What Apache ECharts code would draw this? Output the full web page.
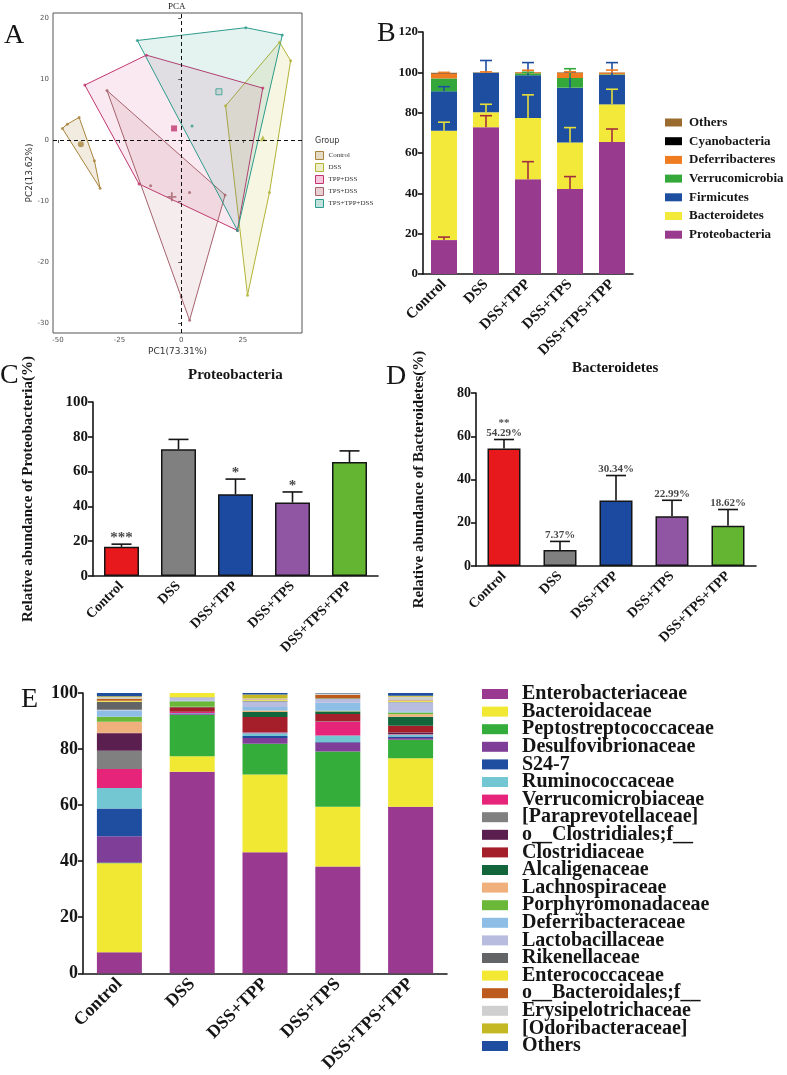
<!DOCTYPE html>
<html>
<head>
<meta charset="utf-8">
<script src="https://cdn.jsdelivr.net/npm/echarts@6/dist/echarts.min.js"></script>
<style>
  html, body { margin: 0; background: #fff; }
  #main { width: 787px; height: 1075px; }
</style>
</head>
<body>
<div id="main"></div>
<script>
// ---------- data ----------
const groups = ['Control', 'DSS', 'DSS+TPP', 'DSS+TPS', 'DSS+TPS+TPP'];

// A: PCA (hull vertices, inner samples, group centroids)
const pcaGroups = ['Control', 'DSS', 'TPP+DSS', 'TPS+DSS', 'TPS+TPP+DSS'];
const controlHull = [[-48.2, 1.9], [-46.2, 2.6], [-41.4, 3.7], [-35.2, -3.4], [-32.9, -7.9]];
const dssHull = [[18.0, 5.6], [39.9, 16.0], [44.4, 13.0], [35.8, -8.6], [26.9, -25.4]];
const tppHull = [[-39.1, 9.0], [-14.1, 13.9], [33.1, 8.5], [22.8, -14.8], [-17.1, -7.2]];
const tpsHull = [[-30.1, 8.1], [17.8, -9.0], [3.4, -29.5], [0.0, -25.7]];
const tpstppHull = [[-17.8, 16.3], [26.2, 18.4], [41.0, 17.2], [22.8, -14.8]];
const tpsInner = [[-12.4, -7.5], [3.4, -8.6]];
const tpstppInner = [[4.4, 2.3]];
const centroids = [[-40.7, -0.7], [33.1, 0.3], [-2.9, 1.9], [-3.8, -9.3], [15.3, 7.9]];

// B/C/D: phylum level (%)
const proteobacteria = [16.8, 72.8, 47.0, 42.2, 65.5];
const bacteroidetes = [54.29, 7.37, 30.34, 22.99, 18.62];
const firmicutes = [19.5, 19.6, 21.2, 27.2, 14.6];
const verrucomicrobia = [6.4, 0.05, 1.0, 4.8, 0.3];
const deferribacteres = [2.5, 0.1, 0.5, 2.6, 0.8];
const cyanobacteria = [0.2, 0.02, 0.02, 0.1, 0.05];
const othersPhylum = [0.1, 0.1, 0.1, 0.1, 0.1];
const proteoErr = [1.5, 5.7, 8.7, 6.1, 6.4];
const bacteroErr = [4.2, 4.0, 11.5, 7.4, 7.5];
const firmiErr = [2.3, 6.1, 6.3, 7.8, 6.1];
const verrucoErr = [0, 0, 0.5, 4.6, 0];
const deferriErr = [0.5, 0.3, 1.0, 0.5, 1.3];
const starsC = ['***', '', '*', '*', ''];
const starsD = ['**', '', '', '', ''];

// E: family level (%)
const familyNames = ['Enterobacteriaceae', 'Bacteroidaceae', 'Peptostreptococcaceae', 'Desulfovibrionaceae', 'S24-7',
  'Ruminococcaceae', 'Verrucomicrobiaceae', '[Paraprevotellaceae]', 'o__Clostridiales;f__', 'Clostridiaceae',
  'Alcaligenaceae', 'Lachnospiraceae', 'Porphyromonadaceae', 'Deferribacteraceae', 'Lactobacillaceae',
  'Rikenellaceae', 'Enterococcaceae', 'o__Bacteroidales;f__', 'Erysipelotrichaceae', '[Odoribacteraceae]', 'Others'];
const enterobacteriaceae = [7.5, 71.9, 43.2, 38.1, 59.4];
const bacteroidaceae = [31.8, 5.5, 27.7, 21.3, 17.3];
const peptostreptococcaceae = [0.1, 14.8, 11.0, 19.7, 6.6];
const desulfovibrionaceae = [9.5, 0.5, 2.0, 3.2, 0.6];
const s247 = [9.9, 0.1, 0.8, 0.2, 0.6];
const ruminococcaceae = [7.3, 0.1, 0.9, 2.3, 0.6];
const verrucomicrobiaceae = [6.8, 0.3, 0.3, 4.9, 0.2];
const paraprevotellaceae = [6.5, 0.0, 0.1, 0.1, 0.1];
const oClostridiales = [6.2, 0.1, 0.1, 0.1, 0.5];
const clostridiaceae = [0.1, 1.6, 5.3, 2.6, 2.4];
const alcaligenaceae = [0.1, 0.1, 1.8, 0.9, 3.2];
const lachnospiraceae = [3.9, 0.1, 0.5, 0.1, 0.9];
const porphyromonadaceae = [1.8, 2.0, 0.1, 0.2, 0.6];
const deferribacteraceae = [2.3, 0.1, 1.2, 2.8, 0.5];
const lactobacillaceae = [0.2, 1.2, 2.0, 1.4, 3.2];
const rikenellaceae = [2.9, 0.1, 0.2, 0.2, 0.2];
const enterococcaceae = [0.3, 1.8, 0.3, 0.1, 0.3];
const oBacteroidales = [0.7, 0.3, 0.2, 1.2, 0.2];
const erysipelotrichaceae = [0.6, 0.1, 0.3, 0.3, 1.3];
const odoribacteraceae = [0.3, 0.1, 1.5, 0.1, 0.3];
const othersFamily = [1.2, 0.1, 0.6, 0.5, 1.3];

// ---------- helpers ----------
const serif = '"Liberation Serif","Times New Roman",serif';
const ink = '#151515';

function catAxis(gridIndex, fontSize) {
  return {
    type: 'category', gridIndex: gridIndex, data: groups,
    axisLine: { lineStyle: { color: ink, width: 1.6 } },
    axisTick: { alignWithLabel: true, length: 6, lineStyle: { color: ink, width: 1.6 } },
    axisLabel: { rotate: 45, interval: 0, margin: 8, fontFamily: serif, fontWeight: 'bold', fontSize: fontSize, color: ink }
  };
}
function valAxis(gridIndex, max, fontSize, name, gap) {
  return {
    type: 'value', gridIndex: gridIndex, min: 0, max: max, interval: 20,
    splitLine: { show: false },
    axisLine: { show: true, lineStyle: { color: ink, width: 1.6 } },
    axisTick: { show: true, length: 5, lineStyle: { color: ink, width: 1.6 } },
    axisLabel: { fontFamily: serif, fontWeight: 'bold', fontSize: fontSize, color: ink, margin: 5 },
    name: name || '', nameLocation: 'middle', nameGap: gap || 0,
    nameTextStyle: { fontFamily: serif, fontWeight: 'bold', fontSize: 15, color: ink }
  };
}
function errorRender(half, color, width) {
  return function (params, api) {
    const e = api.value(2);
    if (!e) return null;
    const base = api.coord([api.value(0), api.value(1)]);
    const top = api.coord([api.value(0), api.value(1) + e]);
    const st = { stroke: color, lineWidth: width };
    return {
      type: 'group', children: [
        { type: 'line', shape: { x1: base[0], y1: base[1], x2: top[0], y2: top[1] }, style: st },
        { type: 'line', shape: { x1: top[0] - half, y1: top[1], x2: top[0] + half, y2: top[1] }, style: st }
      ]
    };
  };
}

const series = [];

// ---------- A: PCA ----------
const hulls = [controlHull, dssHull, tppHull, tpsHull, tpstppHull];
const inners = [[], [], [], tpsInner, tpstppInner];
const pcaColors = ['#a8843c', '#b3b336', '#c2356f', '#a5626c', '#2e9c8c'];
const pcaFills = ['rgba(168,132,60,0.16)', 'rgba(195,195,70,0.15)', 'rgba(225,70,140,0.12)',
  'rgba(175,95,105,0.12)', 'rgba(46,156,140,0.13)'];
const pcaSymbols = ['circle', 'triangle', 'rect',
  'path://M4,0h2v4h4v2h-4v4h-2v-4h-4v-2h4z', 'rect'];

hulls.forEach(function (hull, g) {
  series.push({
    type: 'custom', name: pcaGroups[g], xAxisIndex: 0, yAxisIndex: 0, z: 1,
    data: hull, encode: { x: 0, y: 1 },
    renderItem: function (params, api) {
      if (params.dataIndex !== 0) return null;
      const pts = hull.map(function (p) { return api.coord(p); });
      return { type: 'polygon', shape: { points: pts },
        style: { fill: pcaFills[g], stroke: pcaColors[g], lineWidth: 1 } };
    }
  });
  series.push({
    type: 'scatter', name: pcaGroups[g], xAxisIndex: 0, yAxisIndex: 0, z: 3,
    data: hull.concat(inners[g]), symbolSize: 3, itemStyle: { color: pcaColors[g] }
  });
  series.push({
    type: 'scatter', name: pcaGroups[g], xAxisIndex: 0, yAxisIndex: 0, z: 4,
    data: [centroids[g]], symbol: pcaSymbols[g], symbolSize: g === 3 ? 9 : 6,
    itemStyle: g === 4
      ? { color: 'rgba(46,156,140,0.15)', borderColor: pcaColors[g], borderWidth: 1 }
      : { color: pcaColors[g] }
  });
});
series.push({
  type: 'scatter', xAxisIndex: 0, yAxisIndex: 0, data: [], silent: true,
  markLine: {
    silent: true, symbol: 'none', label: { show: false },
    lineStyle: { color: '#111', type: [4, 3], width: 1 },
    data: [{ xAxis: 0 }, { yAxis: 0 }]
  }
});

// ---------- B: stacked phyla with error bars ----------
const phylumNames = ['Proteobacteria', 'Bacteroidetes', 'Firmicutes', 'Verrucomicrobia', 'Deferribacteres', 'Cyanobacteria', 'Others'];
const phylumLayers = [proteobacteria, bacteroidetes, firmicutes, verrucomicrobia, deferribacteres, cyanobacteria, othersPhylum];
const phylumErrs = [proteoErr, bacteroErr, firmiErr, verrucoErr, deferriErr, null, null];
const phylumColors = ['#983a8e', '#f2e93a', '#1d4ea0', '#35a83c', '#f07c22', '#000000', '#9b6a2f'];
const phylumErrColors = ['#a2303f', '#e6de3a', '#1d4ea0', '#35a83c', '#f07c22', '#000', '#000'];
const cum = [0, 0, 0, 0, 0];
phylumLayers.forEach(function (layer, k) {
  series.push({
    type: 'bar', name: phylumNames[k], stack: 'phylum', xAxisIndex: 1, yAxisIndex: 1,
    barWidth: 26, data: layer, itemStyle: { color: phylumColors[k] }
  });
  for (let i = 0; i < 5; i++) cum[i] += layer[i];
  if (phylumErrs[k]) {
    series.push({
      type: 'custom', xAxisIndex: 1, yAxisIndex: 1, z: 5, silent: true,
      data: groups.map(function (g, i) { return [i, cum[i], phylumErrs[k][i]]; }),
      encode: { x: 0, y: 1 },
      renderItem: errorRender(6, phylumErrColors[k], 1.6)
    });
  }
});

// ---------- C & D: single bars ----------
const barColors = ['#e8191d', '#808080', '#1c4aa0', '#9156a3', '#64b531'];
function singleBars(axisIdx, values, errs, width, half) {
  series.push({
    type: 'bar', xAxisIndex: axisIdx, yAxisIndex: axisIdx, barWidth: width,
    data: values.map(function (v, i) {
      return { value: v, itemStyle: { color: barColors[i], borderColor: ink, borderWidth: 1.5 } };
    })
  });
  series.push({
    type: 'custom', xAxisIndex: axisIdx, yAxisIndex: axisIdx, z: 5, silent: true,
    data: values.map(function (v, i) { return [i, v, errs[i]]; }),
    encode: { x: 0, y: 1 },
    renderItem: errorRender(half, ink, 1.6)
  });
}
singleBars(2, proteobacteria, proteoErr, 35, 10);
series.push({
  type: 'scatter', xAxisIndex: 2, yAxisIndex: 2, symbolSize: 1, silent: true,
  itemStyle: { color: 'rgba(0,0,0,0)' },
  data: proteobacteria.map(function (v, i) { return [i, v + proteoErr[i]]; }),
  label: {
    show: true, position: 'top', distance: -2, fontFamily: serif, fontWeight: 'bold', fontSize: 15, color: ink,
    formatter: function (p) { return starsC[p.dataIndex]; }
  }
});
singleBars(3, bacteroidetes, bacteroErr, 33, 10);
series.push({
  type: 'scatter', xAxisIndex: 3, yAxisIndex: 3, symbolSize: 1, silent: true,
  itemStyle: { color: 'rgba(0,0,0,0)' },
  data: bacteroidetes.map(function (v, i) { return [i, v + bacteroErr[i]]; }),
  label: {
    show: true, position: 'top', distance: 1, fontFamily: serif, fontWeight: 'bold', fontSize: 11,
    lineHeight: 10, color: ink, align: 'center',
    formatter: function (p) {
      const i = p.dataIndex;
      return (starsD[i] ? starsD[i] + '\n' : '') + bacteroidetes[i].toFixed(2) + '%';
    }
  }
});

// ---------- E: stacked families ----------
const familyLayers = [enterobacteriaceae, bacteroidaceae, peptostreptococcaceae, desulfovibrionaceae, s247,
  ruminococcaceae, verrucomicrobiaceae, paraprevotellaceae, oClostridiales, clostridiaceae, alcaligenaceae,
  lachnospiraceae, porphyromonadaceae, deferribacteraceae, lactobacillaceae, rikenellaceae, enterococcaceae,
  oBacteroidales, erysipelotrichaceae, odoribacteraceae, othersFamily];
const familyColors = ['#993a90', '#f0e832', '#34ad3a', '#7f3f98', '#1f4ea1', '#72c7d3', '#e6247a', '#808080',
  '#5a1f4f', '#a51f2a', '#13653c', '#f0b07c', '#6bb838', '#8ebde6', '#b8bde0', '#636466', '#f3e834',
  '#bd5a1e', '#cfcfcf', '#c4b925', '#1f4ea1'];
familyLayers.forEach(function (layer, k) {
  series.push({
    type: 'bar', name: familyNames[k], stack: 'family', xAxisIndex: 4, yAxisIndex: 4,
    barWidth: 45, data: layer, itemStyle: { color: familyColors[k] }
  });
});

// ---------- chart ----------
const myChart = echarts.init(document.getElementById('main'));
const pcaLabel = { fontFamily: '"DejaVu Sans",sans-serif', fontSize: 7, color: '#555' };

const option = {
  backgroundColor: '#fff',
  animation: false,
  grid: [
    { left: 53, top: 13, width: 249, height: 320, show: true, borderColor: '#555', borderWidth: 1 },
    { left: 423, top: 32, width: 210, height: 242 },
    { left: 93, top: 402, width: 285, height: 174 },
    { left: 476, top: 393, width: 280, height: 173 },
    { left: 83, top: 693, width: 364, height: 284 }
  ],
  xAxis: [
    {
      type: 'value', gridIndex: 0, min: -52, max: 49,
      splitLine: { show: false }, axisLine: { show: false },
      axisTick: { show: true, length: 3, customValues: [-50, -25, 0, 25], lineStyle: { color: '#555' } },
      axisLabel: Object.assign({ customValues: [-50, -25, 0, 25], margin: 4 }, pcaLabel),
      name: 'PC1(73.31%)', nameLocation: 'middle', nameGap: 14,
      nameTextStyle: { fontFamily: '"DejaVu Sans",sans-serif', fontSize: 9, color: '#333' }
    },
    catAxis(1, 15), catAxis(2, 14), catAxis(3, 14), catAxis(4, 18)
  ],
  yAxis: [
    {
      type: 'value', gridIndex: 0, min: -31.6, max: 20.8,
      splitLine: { show: false }, axisLine: { show: false },
      axisTick: { show: true, length: 3, customValues: [-30, -20, -10, 0, 10, 20], lineStyle: { color: '#555' } },
      axisLabel: Object.assign({ customValues: [-30, -20, -10, 0, 10, 20], margin: 4 }, pcaLabel),
      name: 'PC2(13.62%)', nameLocation: 'middle', nameGap: 18,
      nameTextStyle: { fontFamily: '"DejaVu Sans",sans-serif', fontSize: 9, color: '#333' }
    },
    valAxis(1, 120, 13),
    valAxis(2, 100, 15, 'Relative abundance of Proteobacteria(%)', 57),
    valAxis(3, 80, 14, 'Relative abundance of Bacteroidetes(%)', 49),
    valAxis(4, 100, 18)
  ],
  legend: [
    {
      left: 310, top: 146, orient: 'vertical', selectedMode: false,
      itemWidth: 8, itemHeight: 8, itemGap: 3,
      textStyle: { fontFamily: serif, fontSize: 7, color: '#333', lineHeight: 8 },
      data: pcaGroups.map(function (n, g) {
        return { name: n, icon: 'rect', itemStyle: { color: pcaFills[g].replace(/0\.1\d\)/, '0.3)'), borderColor: pcaColors[g], borderWidth: 1 } };
      })
    },
    {
      left: 660, top: 111, orient: 'vertical', selectedMode: false,
      itemWidth: 17, itemHeight: 8, itemGap: 5.7,
      textStyle: { fontFamily: serif, fontWeight: 'bold', fontSize: 13, color: ink, lineHeight: 13, padding: [0, 0, 0, 2] },
      data: phylumNames.slice().reverse().map(function (n) {
        return { name: n, icon: 'rect', itemStyle: { color: phylumColors[phylumNames.indexOf(n)] } };
      })
    },
    {
      left: 477, top: 679, height: 395, orient: 'vertical', selectedMode: false,
      itemWidth: 26, itemHeight: 10, itemGap: -2.4,
      textStyle: { fontFamily: serif, fontWeight: 'bold', fontSize: 20, color: ink, lineHeight: 14, padding: [0, 0, 0, 9] },
      data: familyNames.map(function (n, k) {
        return { name: n, icon: 'rect', itemStyle: { color: familyColors[k] } };
      })
    }
  ],
  graphic: [
    { type: 'text', left: 4, top: 22, style: { text: 'A', font: '28px ' + serif, fill: ink } },
    { type: 'text', left: 377, top: 20, style: { text: 'B', font: '28px ' + serif, fill: ink } },
    { type: 'text', left: 0, top: 362, style: { text: 'C', font: '28px ' + serif, fill: ink } },
    { type: 'text', left: 386, top: 363, style: { text: 'D', font: '28px ' + serif, fill: ink } },
    { type: 'text', left: 21, top: 686, style: { text: 'E', font: '28px ' + serif, fill: ink } },
    { type: 'text', left: 168, top: 2, style: { text: 'PCA', font: '9px ' + serif, fill: '#222' } },
    { type: 'text', left: 315, top: 137, style: { text: 'Group', font: '8px "DejaVu Sans",sans-serif', fill: '#333' } },
    { type: 'text', left: 188, top: 368, style: { text: 'Proteobacteria', font: 'bold 15px ' + serif, fill: ink } },
    { type: 'text', left: 572, top: 361, style: { text: 'Bacteroidetes', font: 'bold 15px ' + serif, fill: ink } }
  ],
  series: series
};

myChart.setOption(option);
</script>
</body>
</html>
